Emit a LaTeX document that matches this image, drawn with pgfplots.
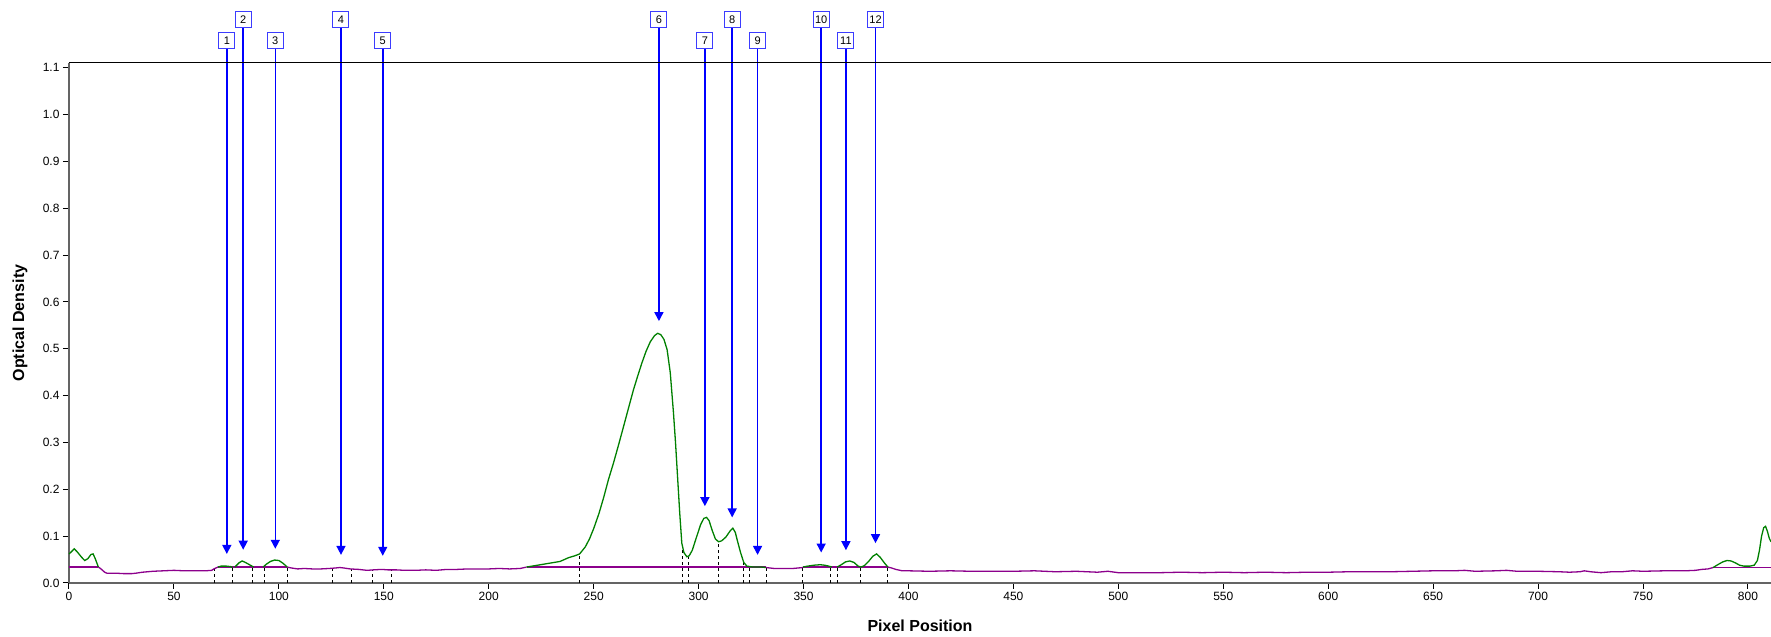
\documentclass[border=0pt]{standalone}
\usepackage{pgfplots}
\pgfplotsset{compat=1.18}
\usepackage{fontspec}
\setmainfont{Liberation Sans}
\usetikzlibrary{arrows.meta}
\definecolor{prof}{RGB}{0,128,0}
\definecolor{bgl}{RGB}{140,0,140}
\definecolor{axg}{RGB}{100,100,100}
\definecolor{arr}{RGB}{0,0,255}
\definecolor{boxb}{RGB}{60,60,255}
\begin{document}
\begin{tikzpicture}
\begin{axis}[name=ax,
  scale only axis, width=1702pt, height=520pt,
  xmin=0, xmax=811, ymin=0, ymax=1.11,
  clip=false,
  axis x line*=bottom, axis y line*=left,
  axis line style={draw=axg, line width=2.5pt, -},
  xtick={0,50,...,800},
  ytick={0,0.1,0.2,0.3,0.4,0.5,0.6,0.7,0.8,0.9,1.0,1.1},
  tick align=outside, major tick length=6pt,
  tick style={black, line width=1pt},
  /pgf/number format/assume math mode=true,
  yticklabel style={/pgf/number format/fixed, /pgf/number format/fixed zerofill, /pgf/number format/precision=1, font=\fontsize{12}{14}\selectfont},
  xticklabel style={font=\fontsize{12}{14}\selectfont},
  xlabel={Pixel Position}, ylabel={Optical Density},
  xlabel style={at={([yshift=-43pt]axis description cs:0.5,0)}, anchor=center, font=\bfseries\fontsize{16}{19}\selectfont},
  ylabel style={at={([xshift=-49pt]axis description cs:0,0.5)}, anchor=center, font=\bfseries\fontsize{16}{19}\selectfont},
  unbounded coords=jump,
]
% dashed peak boundaries
\addplot[ycomb, black, line width=1pt, dash pattern=on 3pt off 3pt, mark=none] coordinates {
(69.1,0.030)(77.9,0.034)(87.4,0.034)(93.0,0.034)(103.9,0.034)
(125.4,0.030)(134.4,0.030)(144.4,0.028)(153.7,0.029)
(243.3,0.062)(292.2,0.073)(295.2,0.056)(309.4,0.088)(321.4,0.044)(324.1,0.035)(332.2,0.033)
(349.7,0.034)(363.0,0.034)(366.0,0.034)(377.3,0.034)(390.2,0.034)
};
% profile below baseline (purple)
\addplot[bgl, line width=1.3pt, mark=none] coordinates {
(14,0.034)(15,0.031)(16,0.027)(17,0.023)(18,0.021)(22,0.021)(26,0.020)(30,0.020)(32,0.021)(35,0.023)(40,0.025)(45,0.026)(50,0.027)(55,0.026)(60,0.026)(65,0.026)(68,0.027)(69,0.030)(71,0.034)
(72,nan)
(104,0.034)(106,0.032)(109,0.030)(112,0.031)(116,0.030)(120,0.030)(124,0.031)(127,0.032)(129,0.033)(131,0.032)(134,0.030)(138,0.029)(142,0.027)(145,0.028)(149,0.029)(152,0.028)(156,0.028)(160,0.027)(165,0.027)(170,0.028)(175,0.027)(180,0.029)(185,0.029)(190,0.030)(195,0.030)(200,0.030)(205,0.031)(210,0.030)(215,0.031)(218,0.034)
(219,nan)
(332,0.033)(336,0.031)(340,0.031)(345,0.031)(349.7,0.033)
(350,nan)
(390.2,0.034)(392,0.032)(394,0.029)(397,0.026)(400,0.026)(410,0.025)(420,0.026)(430,0.025)(440,0.025)(450,0.025)(460,0.026)(470,0.024)(480,0.025)(490,0.023)(495,0.025)(500,0.022)(510,0.022)(520,0.022)(530,0.023)(540,0.022)(550,0.023)(560,0.022)(570,0.023)(580,0.022)(590,0.023)(600,0.023)(610,0.024)(620,0.024)(630,0.024)(640,0.025)(650,0.026)(660,0.026)(665,0.027)(670,0.025)(680,0.026)(685,0.027)(690,0.025)(700,0.025)(710,0.024)(715,0.023)(720,0.024)(722,0.026)(725,0.024)(730,0.022)(735,0.024)(740,0.024)(745,0.026)(750,0.025)(760,0.026)(770,0.026)(775,0.027)(778,0.029)(781,0.030)(783.4,0.033)
};
% baseline segments
\addplot[bgl, line width=1.3pt, mark=none] coordinates {
(0,0.034)(14,0.034) (15,nan)
(71,0.034)(104,0.034) (105,nan)
(218,0.034)(332,0.034) (333,nan)
(349.7,0.034)(390.2,0.034) (391,nan)
(783.4,0.033)(811,0.033)
};
% profile above baseline (green)
\addplot[prof, line width=1.3pt, mark=none] coordinates {
(0,0.062)(1,0.066)(2.5,0.073)(4,0.066)(6,0.055)(7.5,0.048)(9,0.052)(10.5,0.061)(11.5,0.062)(12.5,0.052)(14,0.034)
(15,nan)
(71,0.034)(72.5,0.036)(75,0.036)(77,0.035)(78,0.033)
(78.5,nan)
(79,0.034)(81,0.043)(82.5,0.047)(84,0.044)(86,0.039)(88,0.034)
(89,nan)
(92.5,0.034)(94,0.040)(96,0.046)(98,0.049)(100,0.048)(102,0.042)(104,0.034)
(105,nan)
(218,0.034)(222,0.037)(226,0.040)(230,0.043)(234,0.046)(238,0.054)(241,0.058)(243.3,0.062)(246,0.077)(248,0.094)(250,0.116)(252.5,0.148)(254.8,0.183)(257,0.220)(259.5,0.257)(262,0.297)(264.3,0.335)(267,0.380)(269,0.413)(271,0.442)(273,0.470)(275,0.495)(277,0.515)(279,0.528)(280.5,0.533)(282,0.530)(283.5,0.520)(285,0.498)(286.5,0.449)(288,0.365)(289,0.300)(290,0.225)(291,0.150)(292,0.085)(293,0.065)(294.4,0.056)(295.5,0.058)(297,0.070)(299,0.098)(301,0.125)(302.5,0.138)(303.8,0.140)(305,0.133)(306.5,0.112)(308,0.094)(309.5,0.088)(311,0.090)(313,0.098)(315,0.111)(316.3,0.117)(317.5,0.108)(318.5,0.090)(320,0.065)(321.5,0.044)(323,0.036)(326,0.034)(330,0.034)(332,0.033)
(333,nan)
(349.7,0.034)(352,0.036)(355,0.038)(358,0.039)(360,0.038)(362,0.036)(363.5,0.034)
(364,nan)
(366,0.034)(368,0.039)(370,0.045)(372,0.047)(374,0.044)(376,0.036)(377.3,0.034)(379,0.037)(381,0.046)(383,0.057)(384.8,0.062)(386.5,0.055)(388.5,0.043)(390.2,0.034)
(391,nan)
(783.4,0.033)(786,0.040)(788,0.045)(790,0.048)(792,0.047)(794,0.043)(796,0.038)(798,0.036)(801,0.036)(803,0.038)(804.5,0.048)(805.5,0.070)(806.5,0.100)(807.5,0.118)(808.4,0.121)(809.3,0.110)(810.2,0.095)(811,0.088)
};
% arrows from label boxes to peaks
\addplot[arr, line width=1.5pt, mark=none, -{Triangle[width=9pt,length=9pt]},
  quiver={u=\thisrow{u}, v=\thisrow{v}}] table {
x y u v
75.2 1.139 0 -1.077
83.0 1.185 0 -1.114
98.3 1.139 0 -1.066
129.6 1.185 0 -1.125
149.5 1.139 0 -1.081
281.1 1.185 0 -0.626
303.0 1.139 0 -0.975
316.0 1.185 0 -1.045
328.1 1.139 0 -1.079
358.4 1.185 0 -1.120
370.2 1.139 0 -1.069
384.3 1.185 0 -1.100
};
% peak number boxes
\addplot[only marks, mark=*, mark size=0pt, mark options={draw=none, fill=none},
  nodes near coords, point meta=explicit symbolic,
  every node near coord/.append style={anchor=south, draw=boxb, fill=white, line width=1pt, text=black,
    inner sep=1.5pt, minimum height=16pt, minimum width=16pt, font=\fontsize{11}{13}\selectfont}] table[meta=lab] {
x y lab
75.2 1.139 1
83.0 1.185 2
98.3 1.139 3
129.6 1.185 4
149.5 1.139 5
281.1 1.185 6
303.0 1.139 7
316.0 1.185 8
328.1 1.139 9
358.4 1.185 10
370.2 1.139 11
384.3 1.185 12
};
\draw[black, line width=1pt] (rel axis cs:0,1) -- (rel axis cs:1,1);
\end{axis}
\pgfresetboundingbox
\path[use as bounding box] ([xshift=-69pt,yshift=-54pt]ax.south west) rectangle ([yshift=63pt]ax.north east);
\end{tikzpicture}
\end{document}
